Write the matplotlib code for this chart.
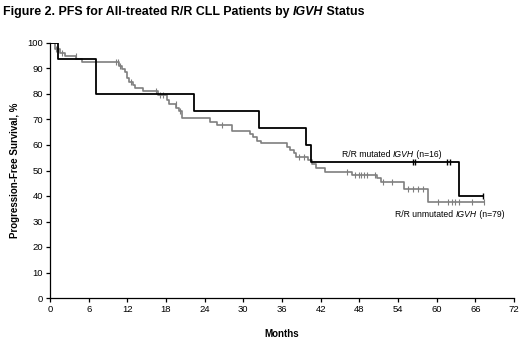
import numpy as np
import matplotlib
matplotlib.use('Agg')
import matplotlib.pyplot as plt

plt.rcParams['font.family'] = ['Liberation Sans', 'DejaVu Sans']

# R/R mutated IGVH (n=16): step times (months) and survival after each step (%)
mut_t = [0, 1.3, 7.2, 22.3, 32.4, 39.7, 40.5, 63.4]
mut_s = [100, 93.75, 80, 73.3, 66.7, 60, 53.3, 40]
mut_end = 67.2
mut_cens = [56.3, 56.7, 61.6, 62.1, 67.2]

# R/R unmutated IGVH (n=79)
unm_t = [0, 0.8, 1.5, 2.3, 4.1, 4.9, 10.7, 11.1, 11.6, 12.0, 12.3, 12.9, 13.2,
         14.5, 16.8, 18.1, 18.4, 19.6, 20.0, 20.5, 24.8, 25.9, 28.2, 31.1, 31.5,
         32.1, 32.8, 36.8, 37.3, 37.8, 38.2, 40.1, 40.6, 41.2, 42.7, 46.8, 50.8,
         51.4, 55.0, 58.6]
unm_s = [100, 97.5, 96.2, 94.9, 93.7, 92.4, 91.1, 89.9, 88.6, 86.1, 84.8, 83.5,
         82.3, 81.0, 79.7, 77.8, 75.9, 74.6, 73.3, 70.5, 69.2, 67.8, 65.6, 64.3,
         63.2, 61.7, 60.6, 59.3, 58.0, 56.7, 55.4, 54.0, 52.5, 51.0, 49.4, 48.2,
         46.9, 45.6, 42.8, 37.6]
unm_end = 67.4
unm_cens = [1.0, 1.3, 1.8, 4.0, 10.3, 10.5, 10.8, 12.5, 16.5, 17.0, 17.5, 19.5,
            20.2, 26.7, 38.6, 39.4, 46.1, 47.4, 47.9, 48.3, 48.7, 49.2, 50.5,
            51.7, 53.0, 55.6, 56.4, 57.1, 57.9, 60.2, 61.8, 62.4, 62.9, 63.4,
            65.5, 67.4]

x_ticks = list(range(0, 73, 6))
y_ticks = list(range(0, 101, 10))


def surv_at(ts, ss, x):
    i = np.searchsorted(ts, x, side='right') - 1
    return ss[i]


def rich_text(fig, x, y, parts, size, weight='normal'):
    # parts: list of (text, style); x, y in figure fraction, left aligned baseline
    r = fig.canvas.get_renderer()
    inv = fig.transFigure.inverted()
    for s, style in parts:
        t = fig.text(x, y, s, fontsize=size, fontweight=weight, fontstyle=style,
                     ha='left', va='baseline')
        bb = t.get_window_extent(renderer=r)
        x = inv.transform((bb.x1, 0))[0]


fig = plt.figure(figsize=(5.2, 3.38), dpi=100)
ax = fig.add_axes([50 / 520, 1 - 298 / 338, 464 / 520, 255 / 338])

GREY = '#7f7f7f'
ax.step(unm_t + [unm_end], unm_s + [unm_s[-1]], where='post', color=GREY, lw=1.2)
ax.plot(unm_cens, [surv_at(unm_t, unm_s, c) for c in unm_cens], ls='none',
        marker='|', ms=4, mew=0.8, color=GREY)
ax.step(mut_t + [mut_end], mut_s + [mut_s[-1]], where='post', color='black', lw=1.3)
ax.plot(mut_cens, [surv_at(mut_t, mut_s, c) for c in mut_cens], ls='none',
        marker='|', ms=4, mew=1.0, color='black')

ax.set_xlim(0, 72)
ax.set_ylim(0, 100)
ax.set_xticks(x_ticks)
ax.set_yticks(y_ticks)
ax.tick_params(direction='out', length=3, width=0.9, labelsize=6.8, pad=2)
for sp in ['top', 'right']:
    ax.spines[sp].set_visible(False)
for sp in ['left', 'bottom']:
    ax.spines[sp].set_linewidth(0.9)
ax.set_xlabel('Months', fontsize=7, fontweight='bold', labelpad=11)
ax.set_ylabel('Progression-Free Survival, %', fontsize=7, fontweight='bold', labelpad=5)

fig.canvas.draw()
rich_text(fig, 3 / 520, 1 - 15 / 338,
          [('Figure 2. PFS for All-treated R/R CLL Patients by ', 'normal'),
           ('IGVH', 'italic'), (' Status', 'normal')], 8.9, 'bold')

inv = fig.transFigure.inverted()
p = inv.transform(ax.transData.transform((45.3, 55.2)))
rich_text(fig, p[0], p[1], [('R/R mutated ', 'normal'), ('IGVH', 'italic'),
                            (' (n=16)', 'normal')], 6.2)
p = inv.transform(ax.transData.transform((53.6, 31.6)))
rich_text(fig, p[0], p[1], [('R/R unmutated ', 'normal'), ('IGVH', 'italic'),
                            (' (n=79)', 'normal')], 6.2)

fig.savefig('out.png', dpi=100)
